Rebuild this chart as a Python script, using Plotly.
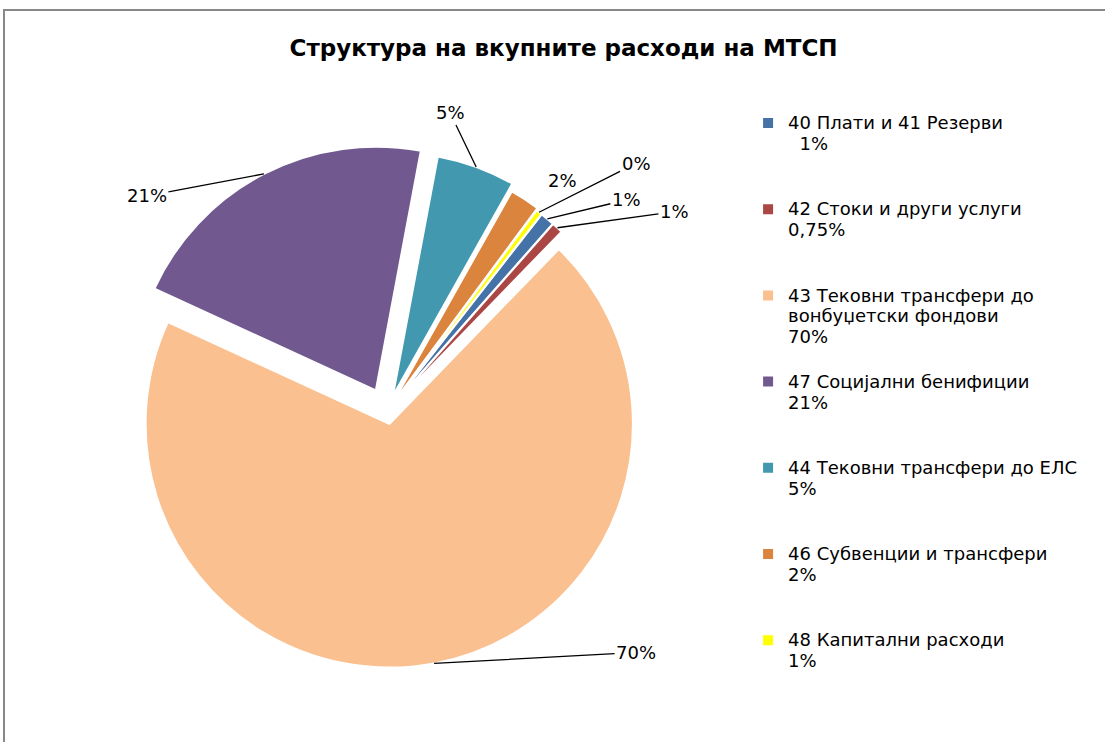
import math
import plotly.graph_objects as go

labels = [
    "40 Плати и 41 Резерви",
    "42 Стоки и други услуги",
    "43 Тековни трансфери до<br>вонбуџетски фондови",
    "47 Социјални бенифиции",
    "44 Тековни трансфери до ЕЛС",
    "46 Субвенции и трансфери",
    "48 Капитални расходи",
]
legend_pct = ["&nbsp;&nbsp;1%", "0,75%", "70%", "21%", "5%", "2%", "1%"]
values = [0.95, 0.75, 69.6, 21.1, 5.2, 2.0, 0.4]
colors = ["#4572A7", "#AA4643", "#FAC090", "#71588F", "#4198AF", "#DB843D", "#FFFF00"]

# styling
pulls = [0.03, 0.03, 0.05, 0.10, 0.07, 0.04, 0.03]
ROT = 38
W, H = 1105, 742
DOM_X = [0.1077, 0.5928]
DOM_Y = [0.0836, 0.806]
# label offsets (pixels) from the slice edge point, and whether to draw a leader line
label_off = [(79, -19), (117, -16), (202, -11), (-117, 22), (-26, -54), (38, -19), (97, -49)]
leader = [True, True, True, True, True, False, True]

legend_text = []
for lab, pct in zip(labels, legend_pct):
    n = lab.count("<br>") + 2
    body = "<br>".join(f"<span style='font-size:18px'>{s}</span>" for s in (lab.split("<br>") + [pct]))
    pad = "<br>&nbsp;" * (4 - n)
    legend_text.append(body + pad)

fig = go.Figure()
fig.add_trace(go.Pie(
    labels=legend_text,
    values=values,
    sort=False,
    direction="clockwise",
    rotation=ROT,
    pull=pulls,
    marker=dict(colors=colors, line=dict(color="white", width=2)),
    textinfo="none",
    domain=dict(x=DOM_X, y=DOM_Y),
    hoverinfo="label+percent",
))

# data labels with leader lines, anchored on each slice's outer edge (from the data)
bw = (DOM_X[1] - DOM_X[0]) * W
bh = (DOM_Y[1] - DOM_Y[0]) * H
cx = (DOM_X[0] + DOM_X[1]) / 2 * W
cy = (1 - (DOM_Y[0] + DOM_Y[1]) / 2) * H
r = min(bw, bh) / (2 + 2 * max(pulls))
total = sum(values)
ang = ROT
annotations = []
for v, p, (ox, oy), ld in zip(values, pulls, label_off, leader):
    span = 360 * v / total
    mid = math.radians(ang + span / 2)
    ang += span
    px = cx + (r + p * r) * math.sin(mid)
    py = cy - (r + p * r) * math.cos(mid)
    pct = f"{round(100 * v / total)}%"
    annotations.append(dict(
        x=px / W, y=1 - py / H, xref="paper", yref="paper",
        text=pct, showarrow=True, ax=ox, ay=oy,
        arrowhead=0, arrowwidth=1.3,
        arrowcolor="black" if ld else "rgba(0,0,0,0)",
        font=dict(family="DejaVu Sans", size=18, color="black"),
    ))

fig.update_layout(
    width=W, height=H,
    margin=dict(l=0, r=0, t=0, b=0),
    paper_bgcolor="white",
    title=dict(text="<b>Структура на вкупните расходи на МТСП</b>",
               x=0.51, xanchor="center", y=0.935, yanchor="middle",
               font=dict(family="DejaVu Sans", size=23, color="black")),
    legend=dict(x=0.677, y=0.857, xanchor="left", yanchor="top",
                font=dict(family="DejaVu Sans", size=16, color="black"),
                valign="top", itemwidth=30, tracegroupgap=0),
    annotations=annotations,
    shapes=[dict(type="rect", xref="paper", yref="paper",
                 x0=4/1105, x1=1.02, y0=-0.02, y1=1-10/742,
                 line=dict(color="#888888", width=2))],
)

fig.write_html("out.html")
